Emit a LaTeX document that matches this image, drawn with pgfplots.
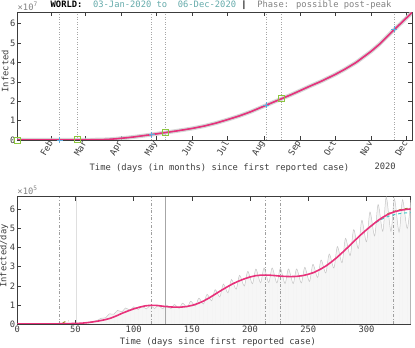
\documentclass[border=0pt]{standalone}
\usepackage{fontspec}
\setmainfont{DejaVu Sans Mono}
\usepackage{pgfplots}
\usepackage{pgfplotstable}
\pgfplotsset{compat=1.18}

\definecolor{fitred}{RGB}{232,49,122}
\definecolor{ltblue}{RGB}{95,170,220}
\definecolor{ltgreen}{RGB}{140,198,63}
\definecolor{tealtxt}{RGB}{100,170,170}
\definecolor{graytxt}{RGB}{130,130,130}
\definecolor{olive2}{RGB}{150,140,40}
\definecolor{cyan2}{RGB}{60,200,200}
\definecolor{axgray}{RGB}{60,60,60}

% cumulative infected (x 1e7)
\pgfplotstableread{
day cum
0 0
10 0
20 0.0003
29 0.001
36 0.0015
40 0.003
45 0.006
51 0.0075
58 0.0088
65 0.011
70 0.016
75 0.025
80 0.04
85 0.065
89 0.09
95 0.125
100 0.16
105 0.2
110 0.24
115 0.28
119 0.315
127 0.385
135 0.455
142 0.52
150 0.6
160 0.72
170 0.87
180 1.05
190 1.24
200 1.46
211 1.74
220 1.97
226 2.12
235 2.35
242 2.54
250 2.76
260 3.02
272 3.37
280 3.63
290 3.99
303 4.57
310 4.93
317 5.35
323 5.7
330 6.1
338 6.57
}\cumtab

% fitted daily curve (x 1e5)
\pgfplotstableread{
day val
0 0
20 0
35 0.01
45 0.02
55 0.04
60 0.07
65 0.11
70 0.16
75 0.22
80 0.3
85 0.42
90 0.56
95 0.68
100 0.79
105 0.88
110 0.95
115 0.98
120 0.97
125 0.93
130 0.9
135 0.88
140 0.88
145 0.91
150 0.97
155 1.07
160 1.2
165 1.37
170 1.56
175 1.75
180 1.93
185 2.1
190 2.24
195 2.36
200 2.46
205 2.53
210 2.56
215 2.56
220 2.54
225 2.51
230 2.49
235 2.48
240 2.49
245 2.53
250 2.6
255 2.7
260 2.85
265 3.03
270 3.25
275 3.5
280 3.78
285 4.07
290 4.37
295 4.66
300 4.93
305 5.18
310 5.42
315 5.62
320 5.78
325 5.89
330 5.96
335 6.0
338 6.02
}\fittab

% raw daily cases (x 1e5), weekly highs and lows
\pgfplotstableread{
day val
0 0
20 0
35 0.02
40 0.03
45 0.02
50 0.02
55 0.03
60 0.08
65 0.13
69 0.2
72 0.30
76 0.33
79 0.53
83 0.51
86 0.71
90 0.64
93 0.84
97 0.72
100 0.90
104 0.76
107 0.93
111 0.79
114 0.97
118 0.81
121 0.99
125 0.80
128 0.99
132 0.81
135 1.02
139 0.82
142 1.09
146 0.88
149 1.19
153 0.94
156 1.35
160 1.05
163 1.55
167 1.22
170 1.80
174 1.42
177 2.09
181 1.63
184 2.33
188 1.82
191 2.55
195 1.99
198 2.75
202 2.11
205 2.87
209 2.16
212 2.93
216 2.17
219 2.93
223 2.15
226 2.90
230 2.12
233 2.88
237 2.12
240 2.88
244 2.15
247 2.96
251 2.23
254 3.12
258 2.44
261 3.35
265 2.67
268 3.66
272 2.93
275 4.05
279 3.21
282 4.48
286 3.58
289 4.94
293 3.95
296 5.42
300 4.30
303 5.86
307 4.61
310 6.25
314 4.85
317 6.64
321 4.85
324 6.55
328 4.80
331 6.50
335 5.00
338 6.48
}\rawtab

\pgfplotsset{
  matstyle/.style={
    scale only axis,
    anchor=south west,
    axis line style={axgray, line width=0.5pt},
    tick style={axgray, line width=0.5pt},
    tick align=inside,
    major tick length=4pt,
    ticklabel style={text=axgray},
    /pgf/number format/assume math mode=true,
    scaled ticks=false,
    clip mode=individual,
  },
}

\begin{document}
\begin{tikzpicture}[font=\fontsize{8.8}{10.5}\selectfont]
\path[use as bounding box] (0,0) rectangle (415pt,348pt);

% ---------------- top: cumulative ----------------
\begin{axis}[matstyle,
  at={(17.5pt,208pt)}, width=394.5pt, height=127.5pt,
  xmin=0, xmax=338, ymin=0, ymax=6.57,
  xtick={29,58,89,119,150,180,211,242,272,303,333},
  xticklabels={Feb,Mar,Apr,May,Jun,Jul,Aug,Sep,Oct,Nov,Dec},
  xticklabel style={rotate=60, anchor=east, inner sep=1.5pt},
  ytick={0,1,2,3,4,5,6},
  yticklabel style={inner sep=2pt},
]
\foreach \d in {36,51,115,127,213,226,323} {
  \edef\tmp{\noexpand\addplot[gray!70, dotted, line width=0.5pt, forget plot]
    coordinates {(\d,0) (\d,6.57)};}\tmp
}
\addplot[gray!40, line width=4pt, opacity=0.8] table[x=day,y=cum] {\cumtab};
\addplot[ltblue, line width=1pt] table[x=day,y=cum] {\cumtab};
\addplot[fitred, line width=1.6pt] table[x=day,y=cum] {\cumtab};
\addplot[only marks, mark=+, mark size=3pt, ltblue, line width=0.8pt]
  coordinates {(36,0.0015) (115,0.28) (213,1.80) (323,5.70)};
\addplot[only marks, mark=square, mark size=3pt, ltgreen, line width=0.8pt]
  coordinates {(0,0) (51,0.0075) (127,0.385) (226,2.12)};
\node[anchor=south west, text=graytxt, inner sep=0pt] at (rel axis cs:0,1.015)
  {\texttimes10\textsuperscript{7}};
\node[text=axgray] at ([yshift=-28pt]rel axis cs:0.512,0)
  {Time (days (in months) since first reported case)};
\node[text=axgray] at ([yshift=-26pt]rel axis cs:0.932,0) {2020};
\node[text=axgray, rotate=90] at ([xshift=-12.5pt]rel axis cs:0,0.54) {Infected};
\end{axis}

% ---------------- bottom: daily ----------------
\begin{axis}[matstyle,
  at={(17.3pt,24pt)}, width=393.4pt, height=127.3pt,
  xmin=0, xmax=338, ymin=0, ymax=6.66,
  xtick={0,50,100,150,200,250,300},
  ytick={0,1,2,3,4,5,6},
  xticklabel style={inner sep=1.5pt},
  yticklabel style={inner sep=2pt},
]
\addplot[fill=gray!7, draw=none, smooth, forget plot]
  table[x=day,y=val] {\rawtab} \closedcycle;
\addplot[ycomb, gray!9, line width=0.3pt, forget plot]
  table[x=day,y=val] {\rawtab};
\addplot[gray!75, dash dot, line width=0.4pt, forget plot] coordinates {(36,0) (36,6.66)};
\addplot[gray!25, line width=1pt, forget plot] coordinates {(51,0) (51,6.66)};
\addplot[gray!75, dash dot, line width=0.4pt, forget plot] coordinates {(115,0) (115,6.66)};
\addplot[gray!70, line width=0.5pt, forget plot] coordinates {(127,0) (127,6.66)};
\addplot[gray!75, dash dot, line width=0.4pt, forget plot] coordinates {(213,0) (213,6.66)};
\addplot[gray!75, dash dot, line width=0.4pt, forget plot] coordinates {(226,0) (226,6.66)};
\addplot[gray!75, dash dot, line width=0.4pt, forget plot] coordinates {(323,0) (323,6.66)};
\addplot[gray!45, line width=0.5pt, smooth] table[x=day,y=val] {\rawtab};
\addplot[cyan2, dashed, line width=1pt] coordinates {
  (300,4.93) (305,5.17) (310,5.38) (315,5.54) (320,5.66) (325,5.74) (330,5.79) (335,5.82) (338,5.83)};
\addplot[olive2, dashed, line width=1pt] coordinates {(39,0.06) (41,0.12) (44,0.16)};
\addplot[olive2, dashed, line width=1pt] coordinates {
  (318,5.76) (322,5.86) (326,5.94) (330,6.0) (334,6.04) (338,6.07)};
\addplot[fitred, line width=1.6pt] table[x=day,y=val] {\fittab};
\node[anchor=south west, text=graytxt, inner sep=0pt] at (rel axis cs:0,1.015)
  {\texttimes10\textsuperscript{5}};
\node[text=axgray] at ([yshift=-18.3pt]rel axis cs:0.51,0)
  {Time (days since first reported case)};
\node[text=axgray, rotate=90] at ([xshift=-13.3pt]rel axis cs:0,0.535) {Infected/day};
\end{axis}

% ---------------- title ----------------
\node[anchor=west, inner sep=0pt] at (50.5pt,343pt)
  {\textbf{WORLD:}~~\textcolor{tealtxt}{03-Jan-2020 to~~06-Dec-2020}~\textbf{|}~~\textcolor{graytxt}{Phase: possible post-peak}};
\end{tikzpicture}
\end{document}
